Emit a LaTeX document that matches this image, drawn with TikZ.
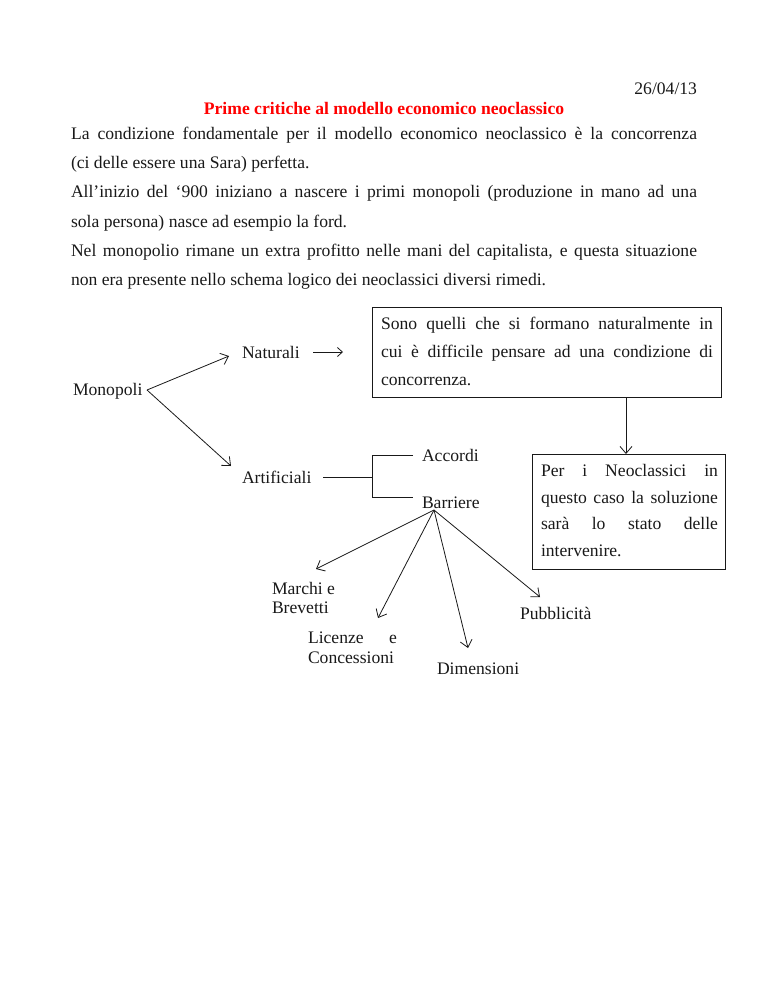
\documentclass[tikz,border=0pt]{standalone}
\usepackage{fontspec}
\setmainfont{Liberation Serif}
\usetikzlibrary{arrows.meta}
\definecolor{titlered}{RGB}{255,0,0}
\definecolor{ink}{RGB}{25,25,25}
\begin{document}
\begin{tikzpicture}[x=1pt,y=-1pt,
  txt/.style={inner sep=0pt, outer sep=0pt, anchor=base west, text=ink, font=\fontsize{17.6}{20}\selectfont},
  boxnode/.style={draw=ink, line width=1pt, inner sep=0pt, outer sep=0pt, anchor=north west},
  arr/.style={draw=ink, line width=0.8pt, -{Straight Barb[length=7pt,width=12pt,line width=0.8pt]}},
  smallarr/.style={draw=ink, line width=0.8pt, -{Straight Barb[length=5pt,width=9pt,line width=0.8pt]}},
  ln/.style={draw=ink, line width=0.9pt}]
\useasboundingbox (0,0) rectangle (768,994);
\fill[white] (0,0) rectangle (768,994);

% header
\node[txt, anchor=base east] (date) at (697,94) {26/04/13};
\node[txt, anchor=base, text=titlered, font=\fontsize{17.6}{20}\selectfont\bfseries] (title) at (384,114) {Prime critiche al modello economico neoclassico};

% body text
\node[txt] (l1) at (71,139) {\makebox[626pt][s]{La condizione fondamentale per il modello economico neoclassico è la concorrenza}};
\node[txt] (l2) at (71,168) {(ci delle essere una Sara) perfetta.};
\node[txt] (l3) at (71,197) {\makebox[626pt][s]{All’inizio del ‘900 iniziano a nascere i primi monopoli (produzione in mano ad una}};
\node[txt] (l4) at (71,227) {sola persona) nasce ad esempio la ford.};
\node[txt] (l5) at (71,256) {\makebox[626pt][s]{Nel monopolio rimane un extra profitto nelle mani del capitalista, e questa situazione}};
\node[txt] (l6) at (71,285) {non era presente nello schema logico dei neoclassici diversi rimedi.};

% box 1
\node[boxnode, minimum width=349pt, minimum height=90pt] (b1) at (372,307) {};
\node[txt] (b1a) at (381,329) {\makebox[332pt][s]{Sono quelli che si formano naturalmente in}};
\node[txt] (b1b) at (381,357) {\makebox[332pt][s]{cui è difficile pensare ad una condizione di}};
\node[txt] (b1c) at (381,385) {concorrenza.};

% box 2
\node[boxnode, minimum width=193pt, minimum height=115pt] (b2) at (532,454) {};
\node[txt] (b2a) at (541,476) {\makebox[177pt][s]{Per i Neoclassici in}};
\node[txt] (b2b) at (541,503) {\makebox[177pt][s]{questo caso la soluzione}};
\node[txt] (b2c) at (541,529) {\makebox[177pt][s]{sarà lo stato delle}};
\node[txt] (b2d) at (541,556) {intervenire.};

\coordinate (dropx) at (626,0);
\draw[arr] (b1.south -| dropx) -- (b2.north -| dropx);

% tree
\node[txt] (mono) at (73,395) {Monopoli};
\node[txt] (nat) at (242,358) {Naturali};
\node[txt] (art) at (242,483) {Artificiali};
\node[txt] (acc) at (422,461) {Accordi};
\node[txt] (bar) at (422,508) {Barriere};

\coordinate (mapex) at (147,390);
\coordinate (natTip) at (229,356);
\coordinate (artTip) at (231,466);
\draw[arr] (mapex) -- (natTip);
\draw[arr] (mapex) -- (artTip);

\coordinate (natArrS) at (313,352);
\coordinate (natArrE) at (343,352);
\draw[smallarr] (natArrS) -- (natArrE);

\coordinate (artS) at (323,477);
\coordinate (brk) at (372,477);
\coordinate (brkTop) at (372,455);
\coordinate (brkBot) at (372,497);
\coordinate (accL) at (413,455);
\coordinate (barL) at (413,497);
\draw[ln] (artS) -- (brk);
\draw[ln] (accL) -- (brkTop) -- (brkBot) -- (barL);

% barriere fan
\coordinate (fan) at (434,510);
\coordinate (tMar) at (316,569);
\coordinate (tLic) at (378,618);
\coordinate (tDim) at (468,648);
\coordinate (tPub) at (540,597);
\draw[arr] (fan) -- (tMar);
\draw[arr] (fan) -- (tLic);
\draw[arr] (fan) -- (tDim);
\draw[arr] (fan) -- (tPub);

\node[txt] (mar1) at (272,594) {Marchi e};
\node[txt] (mar2) at (272,613) {Brevetti};
\node[txt] (lic1) at (308,643) {\makebox[89pt][s]{Licenze e}};
\node[txt] (lic2) at (308,663) {Concessioni};
\node[txt] (dim) at (437,674) {Dimensioni};
\node[txt] (pub) at (520,619) {Pubblicità};
\end{tikzpicture}
\end{document}
